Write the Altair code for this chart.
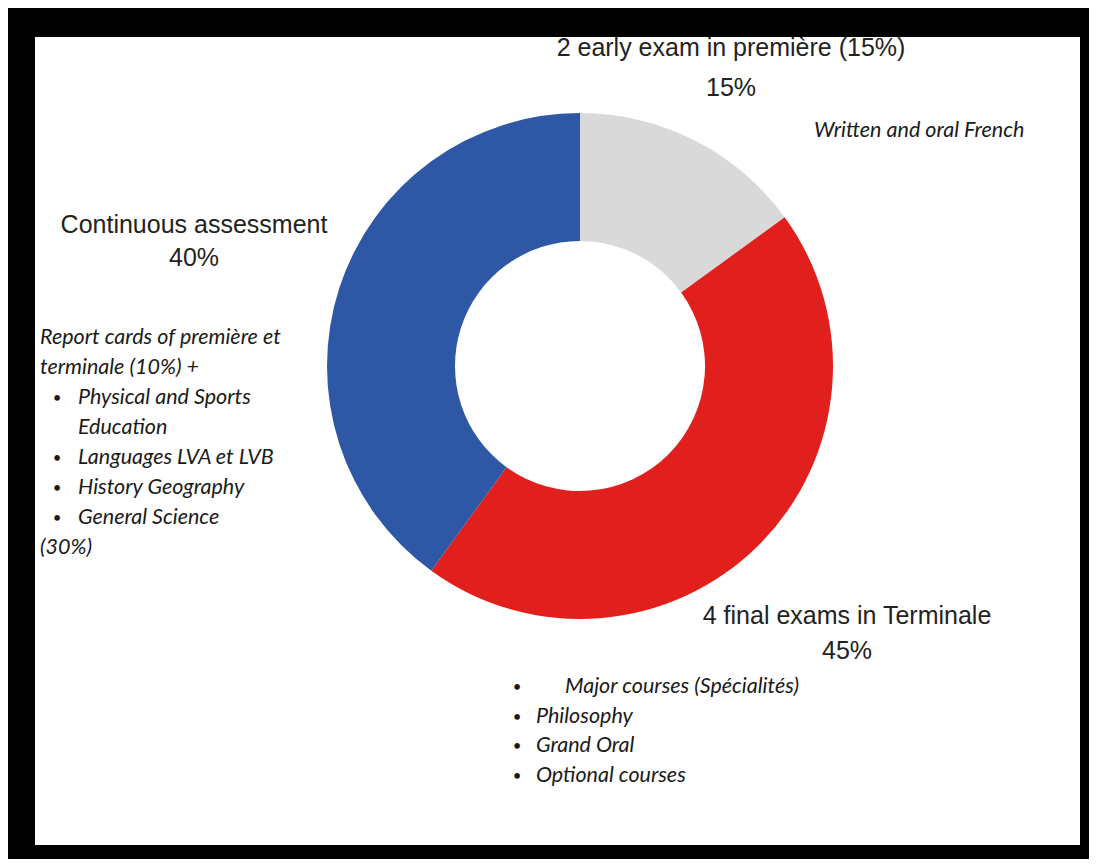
import altair as alt
import pandas as pd

# ---- data ----
CATEGORIES = ["2 early exam in première (15%)", "4 final exams in Terminale", "Continuous assessment"]
SHARES = [15, 45, 40]
PCT_LABELS = ["15%", "45%", "40%"]
COLORS = ["#D9D9D9", "#E1201E", "#2E58A6"]

TOP_NOTE = ["Written and oral French"]
LEFT_NOTE_LINES = [
    "Report cards of première et",
    "terminale (10%) +",
    "Physical and Sports",
    "Education",
    "Languages LVA et LVB",
    "History Geography",
    "General Science",
    "(30%)",
]
LEFT_NOTE_INDENT = [0, 0, 1, 1, 1, 1, 1, 0]
LEFT_NOTE_BULLET = [0, 0, 1, 0, 1, 1, 1, 0]

BOTTOM_NOTE_LINES = ["Major courses (Spécialités)", "Philosophy", "Grand Oral", "Optional courses"]
BOTTOM_NOTE_INDENT = [2, 1, 1, 1]
BOTTOM_NOTE_BULLET = [1, 1, 1, 1]

# ---- styles ----
HEAD_FONT = "Liberation Sans"
NOTE_FONT = "Lato"
TXT = "#1a1a1a"

df = pd.DataFrame({"category": CATEGORIES, "share": SHARES, "order": list(range(len(CATEGORIES)))})

donut = alt.Chart(df).mark_arc(outerRadius=253, innerRadius=125).encode(
    theta=alt.Theta("share:Q", stack=True),
    color=alt.Color("category:N", scale=alt.Scale(domain=CATEGORIES, range=COLORS), legend=None),
    order=alt.Order("order:Q"),
    x=alt.value(545),
    y=alt.value(329),
)

ONE = alt.Data(values=[{"k": 1}])


def label(text, x, y, size, font, align="left", italic=False, dy=0, color=TXT):
    return alt.Chart(ONE).mark_text(
        text=text,
        align=align,
        baseline="middle",
        font=font,
        fontSize=size,
        fontStyle="italic" if italic else "normal",
        dy=dy,
        color=color,
    ).encode(x=alt.value(x), y=alt.value(y))


def head(text, x, y):
    return label(text, x, y, 25, HEAD_FONT, align="center", color="#222222")


layers = [donut]
# headline labels
layers.append(head(CATEGORIES[0], 696, 11))
layers.append(head(PCT_LABELS[0], 696, 51))
layers.append(head(CATEGORIES[1], 812, 579))
layers.append(head(PCT_LABELS[1], 812, 614))
layers.append(head(CATEGORIES[2], 159, 188))
layers.append(head(PCT_LABELS[2], 159, 221))

# notes
NS = 21.5
BS = 15
layers.append(label(TOP_NOTE[0], 779, 94, NS, NOTE_FONT, italic=True))


def note_block(lines, indents, bullets, x_by_indent, x_bullet, y0, lh):
    out = []
    for i, (t, ind, b) in enumerate(zip(lines, indents, bullets)):
        out.append(label(t, x_by_indent[ind], y0, NS, NOTE_FONT, italic=True, dy=i * lh))
        if b:
            out.append(label("•", x_bullet, y0, BS, NOTE_FONT, align="center", dy=i * lh))
    return out


layers += note_block(LEFT_NOTE_LINES, LEFT_NOTE_INDENT, LEFT_NOTE_BULLET,
                     {0: 5, 1: 43}, 22, 301, 30)
layers += note_block(BOTTOM_NOTE_LINES, BOTTOM_NOTE_INDENT, BOTTOM_NOTE_BULLET,
                     {1: 501, 2: 530}, 482, 650, 29.7)

chart = alt.layer(*layers).properties(
    width=1045,
    height=808,
    background="#000000",
    padding={"left": 27, "top": 29, "right": 9, "bottom": 14},
    autosize=alt.AutoSizeParams(type="none"),
).configure_view(fill="white", stroke=None)

chart.save("out.html", embed_options={"renderer": "svg", "actions": False})
